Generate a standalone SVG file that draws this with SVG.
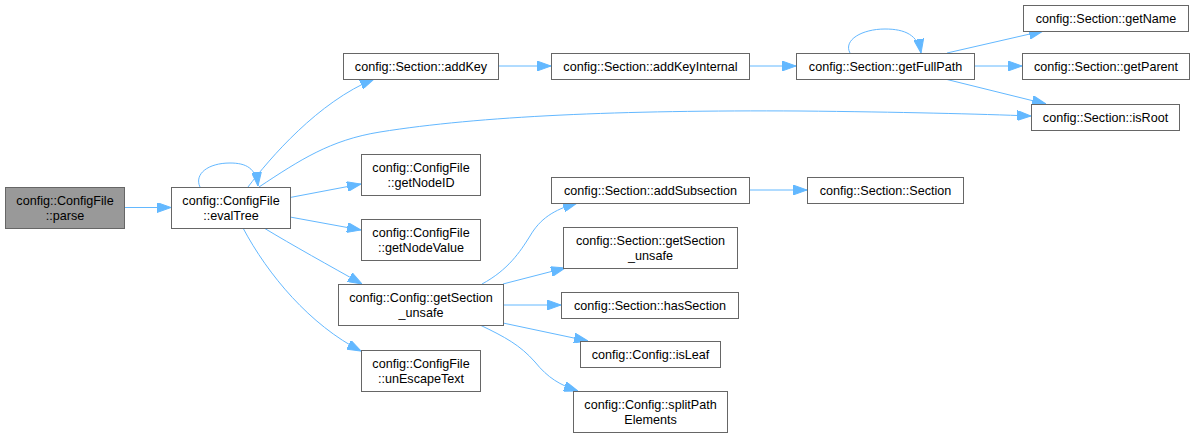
<svg xmlns="http://www.w3.org/2000/svg" width="1195" height="437" viewBox="0 0 1195 437">
<defs>
<style>
.n rect{fill:#ffffff;stroke:#666666;stroke-width:1}
.n.hl rect{fill:#999999}
.n text{font-family:"Liberation Sans",Arial,Helvetica,sans-serif;font-size:12.6px;fill:#000000;text-anchor:middle}
.e path{fill:none;stroke:#63b8ff;stroke-width:1;marker-end:url(#ah)}
</style>
<marker id="ah" viewBox="0 0 14 10" refX="14" refY="5" markerWidth="14" markerHeight="10" markerUnits="userSpaceOnUse" orient="auto">
<path d="M0,0 L14,5 L0,10 Z" fill="#63b8ff" stroke="#63b8ff" stroke-width="1"/>
</marker>
</defs>
<rect width="1195" height="437" fill="#ffffff"/>
<g id="edges" class="e">
<path d="M124,207.5 L171,207.5"/>
<path d="M200,187 C194,174 208,163 230,163 C246,163 256,168 258,186"/>
<path d="M248,187 C270,158 318,102 374,79"/>
<path d="M259,187 C300,160 330,140 380,132 C480,116 620,110 800,111 C900,112 980,114 1031,116"/>
<path d="M290,197.5 L361,184"/>
<path d="M290,217 L361,230"/>
<path d="M264,228 C292,245 330,266 362,284"/>
<path d="M243,228 C268,275 310,325 361,351"/>
<path d="M498,66 L551,66"/>
<path d="M749,66 L796,66"/>
<path d="M850,53 C843,40 862,29 885,29 C905,29 918,35 921,53"/>
<path d="M947,53 L1043,31"/>
<path d="M974,66 L1022,66"/>
<path d="M945,79 L1046,104"/>
<path d="M482,284 C508,270 520,252 530,236 C540,219 553,210 577,203"/>
<path d="M503,284 L565,268"/>
<path d="M503,305 L561,305"/>
<path d="M503,323 L588,341"/>
<path d="M480,325 C505,337 520,345 535,362 C548,378 560,385 578,391"/>
<path d="M749,190 L807,190"/>
</g>
<g id="parse" class="n hl"><rect x="5.5" y="187.5" width="119" height="41"/><text x="65" y="205">config::ConfigFile</text><text x="65" y="220">::parse</text></g>
<g id="evalTree" class="n"><rect x="171.5" y="187.5" width="119" height="41"/><text x="231" y="205">config::ConfigFile</text><text x="231" y="220">::evalTree</text></g>
<g id="addKey" class="n"><rect x="343.5" y="53.5" width="155" height="26"/><text x="421" y="71">config::Section::addKey</text></g>
<g id="addKeyInternal" class="n"><rect x="551.5" y="53.5" width="198" height="26"/><text x="650.5" y="71">config::Section::addKeyInternal</text></g>
<g id="getFullPath" class="n"><rect x="796.5" y="53.5" width="178" height="26"/><text x="885.5" y="71">config::Section::getFullPath</text></g>
<g id="getName" class="n"><rect x="1023.5" y="5.5" width="165" height="26"/><text x="1106" y="23">config::Section::getName</text></g>
<g id="getParent" class="n"><rect x="1022.5" y="53.5" width="167" height="26"/><text x="1106" y="71">config::Section::getParent</text></g>
<g id="isRoot" class="n"><rect x="1031.5" y="104.5" width="148" height="26"/><text x="1105.5" y="122">config::Section::isRoot</text></g>
<g id="getNodeID" class="n"><rect x="361.5" y="154.5" width="119" height="41"/><text x="421" y="172">config::ConfigFile</text><text x="421" y="187">::getNodeID</text></g>
<g id="getNodeValue" class="n"><rect x="361.5" y="219.5" width="119" height="41"/><text x="421" y="237">config::ConfigFile</text><text x="421" y="252">::getNodeValue</text></g>
<g id="configGetSectionUnsafe" class="n"><rect x="338.5" y="284.5" width="165" height="41"/><text x="421" y="302">config::Config::getSection</text><text x="421" y="317">_unsafe</text></g>
<g id="unEscapeText" class="n"><rect x="361.5" y="350.5" width="119" height="41"/><text x="421" y="368">config::ConfigFile</text><text x="421" y="383">::unEscapeText</text></g>
<g id="addSubsection" class="n"><rect x="551.5" y="177.5" width="198" height="26"/><text x="650.5" y="195">config::Section::addSubsection</text></g>
<g id="sectionCtor" class="n"><rect x="807.5" y="177.5" width="156" height="26"/><text x="885.5" y="195">config::Section::Section</text></g>
<g id="sectionGetSectionUnsafe" class="n"><rect x="563.5" y="227.5" width="174" height="41"/><text x="650.5" y="245">config::Section::getSection</text><text x="650.5" y="260">_unsafe</text></g>
<g id="hasSection" class="n"><rect x="561.5" y="292.5" width="177" height="26"/><text x="650" y="310">config::Section::hasSection</text></g>
<g id="isLeaf" class="n"><rect x="580.5" y="341.5" width="140" height="26"/><text x="650.5" y="359">config::Config::isLeaf</text></g>
<g id="splitPathElements" class="n"><rect x="573.5" y="391.5" width="154" height="41"/><text x="650.5" y="409">config::Config::splitPath</text><text x="650.5" y="424">Elements</text></g>
</svg>
